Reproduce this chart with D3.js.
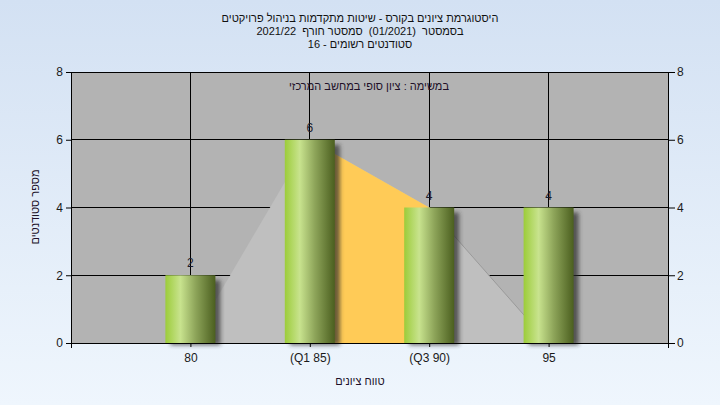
<!DOCTYPE html>
<html><head><meta charset="utf-8">
<script src="https://cdn.jsdelivr.net/npm/d3@7"></script>
<style>html,body{margin:0;padding:0;}svg{display:block;} text{white-space:pre;}</style>
</head><body>
<script>
const categories = ["80", "(Q1 85)", "(Q3 90)", "95"];
const counts = [2, 6, 4, 4];
const curveValues = [0, 6, 4, 0];
const yTicks = [0, 2, 4, 6, 8];
const titleLines = ["היסטוגרמת ציונים בקורס - שיטות מתקדמות בניהול פרויקטים",
                    "בסמסטר  (01/2021)  סמסטר חורף  2021/22",
                    "סטודנטים רשומים - 16"];
const subtitle = "במשימה : ציון סופי במחשב המרכזי";
const xTitle = "טווח ציונים";
const yTitle = "מספר סטודנטים";

const W = 720, H = 405;
const L = 71, R = 668, T = 72, B = 343;
const font = "'Liberation Sans', Arial, sans-serif";

const svg = d3.select("body").append("svg").attr("width", W).attr("height", H);
const defs = svg.append("defs");
const bg = defs.append("linearGradient").attr("id","bg").attr("x1",0).attr("y1",0).attr("x2",0).attr("y2",1);
bg.append("stop").attr("offset","0%").attr("stop-color","#d3e1f3");
bg.append("stop").attr("offset","100%").attr("stop-color","#eff6fd");
const bar = defs.append("linearGradient").attr("id","bar").attr("x1",0).attr("y1",0).attr("x2",1).attr("y2",0);
[["0%","#9ccc3a"],["30%","#c8e38e"],["60%","#8ea55a"],["100%","#4b5f1f"]].forEach(([o,c])=>bar.append("stop").attr("offset",o).attr("stop-color",c));
const sh = defs.append("filter").attr("id","sh").attr("x","-20%").attr("y","-20%").attr("width","160%").attr("height","160%");
sh.append("feGaussianBlur").attr("stdDeviation",2);

svg.append("rect").attr("width",W).attr("height",H).attr("fill","url(#bg)");

const x = d3.scaleLinear().domain([0, categories.length + 1]).range([L, R]);
const y = d3.scaleLinear().domain([0, 8]).range([B, T]);

svg.append("rect").attr("x",L).attr("y",T).attr("width",R-L).attr("height",B-T).attr("fill","#b3b3b3");

// grid
const g = svg.append("g");
yTicks.forEach(t => g.append("line").attr("x1",L).attr("x2",R).attr("y1",y(t)).attr("y2",y(t)).attr("stroke","#000").attr("stroke-width",1).attr("shape-rendering","crispEdges"));
categories.forEach((c,i) => g.append("line").attr("x1",x(i+1)).attr("x2",x(i+1)).attr("y1",T).attr("y2",B).attr("stroke","#000").attr("shape-rendering","crispEdges"));

// area
const area = d3.area().x(d=>x(d.i+1)).y0(y(0)).y1(d=>y(d.v));
const pts = curveValues.map((v,i)=>({i, v}));
svg.append("path").datum(pts).attr("d", area).attr("fill","#bfbfbf");
svg.append("path").datum(pts.slice(1,3)).attr("d", area).attr("fill","#ffcb57");
svg.append("path").datum(pts.slice(2,4)).attr("d", d3.line().x(d=>x(d.i+1)).y(d=>y(d.v))).attr("fill","none").attr("stroke","#9a9a9a").attr("stroke-width",1);

// bars
const bw = 50;
counts.forEach((v,i) => {
  const cx = x(i+1);
  svg.append("rect").attr("x",cx-bw/2+5).attr("y",y(v)+5).attr("width",bw).attr("height",y(0)-y(v)-3)
    .attr("fill","#2a2a2a").attr("opacity",0.7).attr("filter","url(#sh)");
});
counts.forEach((v,i) => {
  const cx = x(i+1);
  svg.append("rect").attr("x",cx-bw/2).attr("y",y(v)).attr("width",bw).attr("height",y(0)-y(v)).attr("fill","url(#bar)");
  svg.append("text").attr("x",cx).attr("y",y(v)-8).attr("text-anchor","middle").attr("font-family",font).attr("font-size",12).attr("fill","#1a1a2a").text(v);
});

const yl = d3.axisLeft(y).tickValues(yTicks).tickSize(5).tickPadding(3);
const yr = d3.axisRight(y).tickValues(yTicks).tickSize(7).tickPadding(2);
const xb = d3.axisBottom(x).tickValues(categories.map((c,i)=>i+1)).tickFormat((d)=>categories[d-1]).tickSize(4).tickPadding(6);
function style(sel){ sel.select(".domain").remove(); sel.selectAll("line").attr("stroke","#000"); sel.selectAll("text").attr("font-family",font).attr("font-size",12).attr("fill","#1a1a1a"); }
svg.append("g").attr("transform",`translate(${L},0)`).call(yl).call(style);
svg.append("g").attr("transform",`translate(${R},0)`).call(yr).call(style);
svg.append("g").attr("transform",`translate(0,${B})`).call(xb).call(style);
svg.append("line").attr("x1",L).attr("x2",L).attr("y1",T).attr("y2",B+5).attr("stroke","#000").attr("shape-rendering","crispEdges");
svg.append("line").attr("x1",R).attr("x2",R).attr("y1",T).attr("y2",B+5).attr("stroke","#000").attr("shape-rendering","crispEdges");
svg.append("line").attr("x1",L).attr("x2",R).attr("y1",B).attr("y2",B).attr("stroke","#000").attr("shape-rendering","crispEdges");

// titles
titleLines.forEach((t,i)=> svg.append("text").attr("x",360).attr("y",22+i*13).attr("text-anchor","middle").attr("direction","rtl")
  .attr("font-family",font).attr("font-size",11).attr("fill","#111").text(t));
svg.append("text").attr("x",369).attr("y",90).attr("text-anchor","middle").attr("direction","rtl")
  .attr("font-family",font).attr("font-size",11).attr("fill","#201028").text(subtitle);
svg.append("text").attr("x",360).attr("y",385).attr("text-anchor","middle").attr("direction","rtl")
  .attr("font-family",font).attr("font-size",11).attr("fill","#201028").text(xTitle);
svg.append("text").attr("transform","translate(39,207) rotate(-90)").attr("text-anchor","middle").attr("direction","rtl")
  .attr("font-family",font).attr("font-size",11).attr("fill","#201028").text(yTitle);
</script>
</body></html>
